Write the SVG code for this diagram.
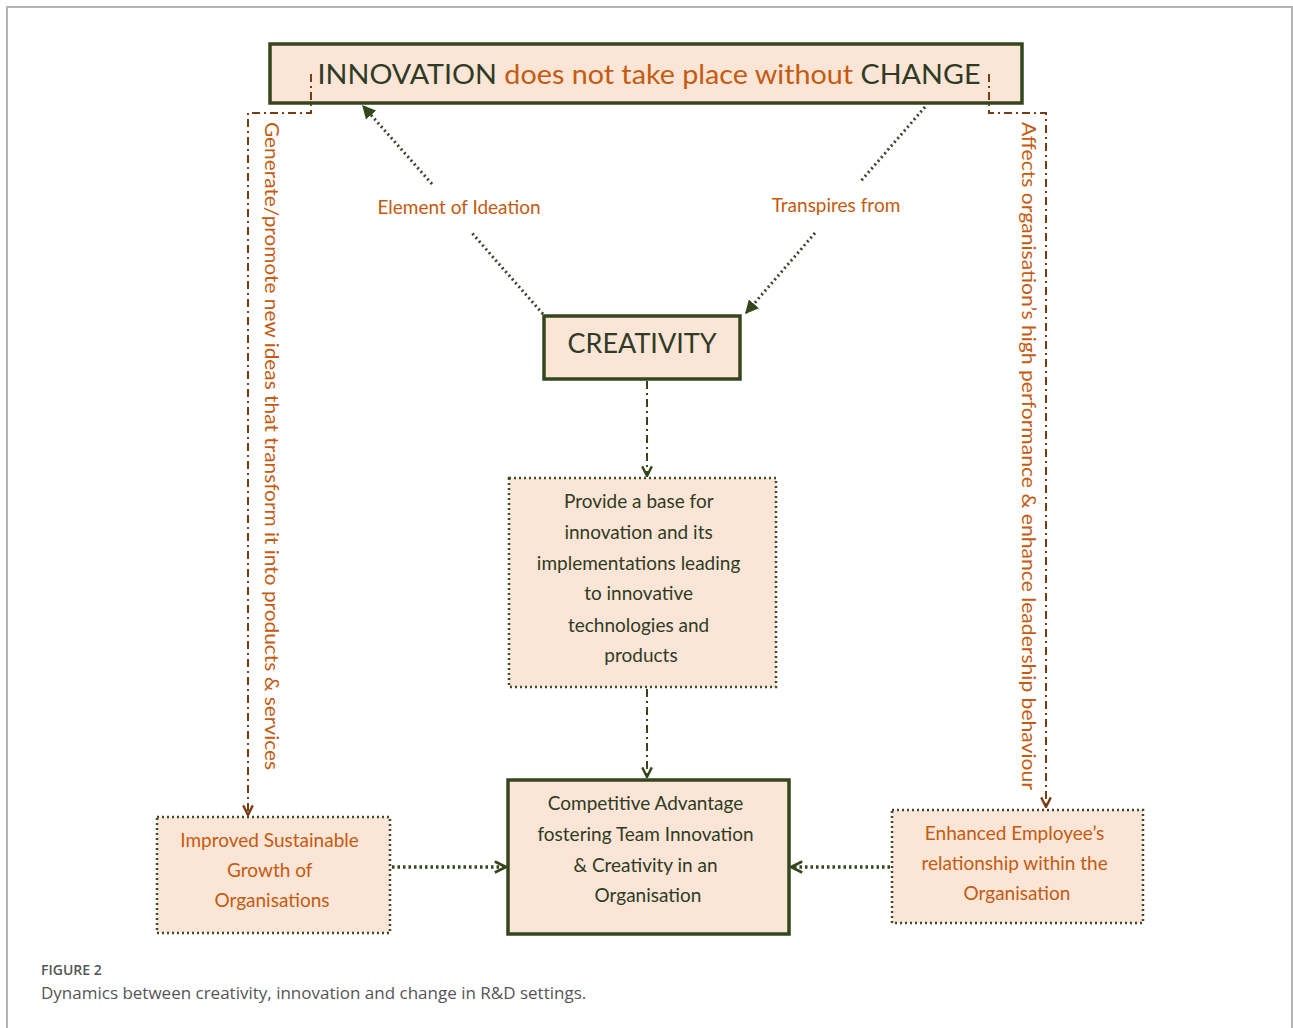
<svg xmlns="http://www.w3.org/2000/svg" width="1293" height="1028" viewBox="0 0 1293 1028">
  <style>
    .frame { fill: none; stroke: #b4b4b4; stroke-width: 2; }
    .box-solid { fill: #fbe5d6; stroke: #34461c; stroke-width: 3.5; }
    .box-dot { fill: #fbe5d6; stroke: #3f4a2a; stroke-width: 2.5; stroke-dasharray: 2 3; }
    .dark { fill: #2f3b24; }
    .orange { fill: #c55a11; }
    .t { font-family: Lato, "Open Sans", "Liberation Sans", sans-serif; }
    .diag { fill: none; stroke: #3c4430; stroke-width: 3; stroke-dasharray: 2 3; }
    .side { fill: none; stroke: #7a3c12; stroke-width: 2; stroke-dasharray: 8 4 2 4; }
    .mid { fill: none; stroke: #34461c; stroke-width: 2; stroke-dasharray: 8 4 2 4; }
    .horiz { fill: none; stroke: #34461c; stroke-width: 3.5; stroke-dasharray: 2.5 3; }
    .caption { font-family: "Open Sans", "Noto Sans", sans-serif; fill: #555555; }
  </style>
  <defs>
    <marker id="tri" viewBox="0 0 10 10" refX="9" refY="5" markerWidth="4.5" markerHeight="4.5" orient="auto" markerUnits="strokeWidth">
      <path d="M0,0 L10,5 L0,10 Z" fill="#34461c"/>
    </marker>
    <marker id="chev-brown" viewBox="0 0 10 10" refX="9" refY="5" markerWidth="6" markerHeight="6" orient="auto" markerUnits="strokeWidth">
      <path d="M1,1 L9,5 L1,9" fill="none" stroke="#7a3c12" stroke-width="2"/>
    </marker>
    <marker id="chev-green" viewBox="0 0 10 10" refX="9" refY="5" markerWidth="6" markerHeight="6" orient="auto" markerUnits="strokeWidth">
      <path d="M1,1 L9,5 L1,9" fill="none" stroke="#34461c" stroke-width="2"/>
    </marker>
    <marker id="chev-bold" viewBox="0 0 10 10" refX="9" refY="5" markerWidth="4" markerHeight="4" orient="auto" markerUnits="strokeWidth">
      <path d="M1,1 L9,5 L1,9" fill="none" stroke="#34461c" stroke-width="2"/>
    </marker>
  </defs>

  <!-- outer figure frame -->
  <path class="frame" d="M7,1028 V7 H1292 V1028"/>

  <g id="innovation">
    <rect class="box-solid" x="270" y="44" width="752" height="59"/>
    <text class="t" x="649" y="84" font-size="27" text-anchor="middle" textLength="663" lengthAdjust="spacingAndGlyphs"><tspan class="dark">INNOVATION </tspan><tspan class="orange">does not take place without </tspan><tspan class="dark">CHANGE</tspan></text>
  </g>

  <!-- connectors -->
  <g id="connectors">
    <!-- creativity to innovation (element of ideation) -->
    <line class="diag" x1="543" y1="314" x2="471" y2="232"/>
    <line class="diag" x1="432" y1="184" x2="363" y2="106" marker-end="url(#tri)"/>
    <!-- innovation to creativity (transpires from) -->
    <line class="diag" x1="925" y1="107" x2="861" y2="181"/>
    <line class="diag" x1="815" y1="233" x2="746" y2="313" marker-end="url(#tri)"/>
    <!-- side loops from the headline box -->
    <path class="side" d="M311,74 V113 H248 V815" marker-end="url(#chev-brown)"/>
    <path class="side" d="M989,74 V113 H1046 V807" marker-end="url(#chev-brown)"/>
    <!-- central chain -->
    <line class="mid" x1="647" y1="381" x2="647" y2="476" marker-end="url(#chev-green)"/>
    <line class="mid" x1="647" y1="689" x2="647" y2="777" marker-end="url(#chev-green)"/>
    <!-- side boxes into competitive advantage -->
    <line class="horiz" x1="392" y1="867" x2="506" y2="867" marker-end="url(#chev-bold)"/>
    <line class="horiz" x1="890" y1="867" x2="791" y2="867" marker-end="url(#chev-bold)"/>
  </g>

  <!-- connector labels -->
  <text class="t orange" x="459" y="214" font-size="19" text-anchor="middle">Element of Ideation</text>
  <text class="t orange" x="836" y="212" font-size="19" text-anchor="middle">Transpires from</text>
  <text class="t orange" font-size="19" transform="translate(265,122) rotate(90)" textLength="648" lengthAdjust="spacingAndGlyphs">Generate/promote new ideas that transform it into products &amp; services</text>
  <text class="t orange" font-size="19" transform="translate(1022,122) rotate(90)" textLength="668" lengthAdjust="spacingAndGlyphs">Affects organisation’s high performance &amp; enhance leadership behaviour</text>

  <g id="creativity">
    <rect class="box-solid" x="544" y="316" width="196" height="63"/>
    <text class="t dark" x="642" y="353" font-size="27" text-anchor="middle">CREATIVITY</text>
  </g>

  <g id="provide-base">
    <rect class="box-dot" x="509" y="478" width="267" height="209"/>
    <text class="t dark" font-size="19" text-anchor="middle">
      <tspan x="641" y="508">Provide a base for</tspan>
      <tspan x="641" y="539">innovation and its</tspan>
      <tspan x="641" y="570">implementations leading</tspan>
      <tspan x="641" y="600">to innovative</tspan>
      <tspan x="641" y="632">technologies and</tspan>
      <tspan x="641" y="662">products</tspan>
    </text>
  </g>

  <g id="competitive-advantage">
    <rect class="box-solid" x="508" y="780" width="281" height="154"/>
    <text class="t dark" font-size="19" text-anchor="middle">
      <tspan x="648" y="810">Competitive Advantage</tspan>
      <tspan x="648" y="841">fostering Team Innovation</tspan>
      <tspan x="648" y="872">&amp; Creativity in an</tspan>
      <tspan x="648" y="902">Organisation</tspan>
    </text>
  </g>

  <g id="sustainable-growth">
    <rect class="box-dot" x="157" y="817" width="233" height="116"/>
    <text class="t orange" font-size="19" text-anchor="middle">
      <tspan x="272" y="847">Improved Sustainable</tspan>
      <tspan x="272" y="877">Growth of</tspan>
      <tspan x="272" y="907">Organisations</tspan>
    </text>
  </g>

  <g id="employee-relationship">
    <rect class="box-dot" x="892" y="810" width="251" height="113"/>
    <text class="t orange" font-size="19" text-anchor="middle">
      <tspan x="1017" y="840">Enhanced Employee’s</tspan>
      <tspan x="1017" y="870">relationship within the</tspan>
      <tspan x="1017" y="900">Organisation</tspan>
    </text>
  </g>

  <!-- caption -->
  <text class="caption" x="41" y="975" font-size="14" font-weight="600">FIGURE 2</text>
  <text class="caption" x="41" y="999" font-size="17" fill="#4a4a4a">Dynamics between creativity, innovation and change in R&amp;D settings.</text>
</svg>
